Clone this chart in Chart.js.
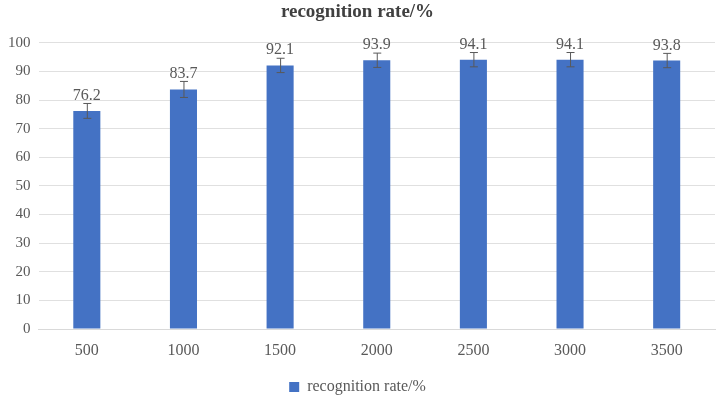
<!DOCTYPE html>
<html>
<head>
<meta charset="utf-8">
<script src="https://cdn.jsdelivr.net/npm/chart.js@4/dist/chart.umd.min.js"></script>
<style>
	html, body { margin: 0; padding: 0; background: #fff; }
	#wrap { width: 720px; height: 398px; }
</style>
</head>
<body>
<div id="wrap"><canvas id="cvs" width="720" height="398"></canvas></div>
<script>
var labels = ["500", "1000", "1500", "2000", "2500", "3000", "3500"];
var rates = [76.2, 83.7, 92.1, 93.9, 94.1, 94.1, 93.8];
var errors = [2.6, 2.8, 2.5, 2.5, 2.5, 2.5, 2.5];
var yTicks = [0, 10, 20, 30, 40, 50, 60, 70, 80, 90, 100];

var textColor = "#595959";
var serif = "'Liberation Serif', 'Times New Roman', serif";

// error bars + value labels drawn on top of the bars
var barExtras = {
	id: "barExtras",
	afterDatasetsDraw: function(chart) {
		var ctx = chart.ctx;
		var meta = chart.getDatasetMeta(0);
		var y = chart.scales.y;
		ctx.save();
		meta.data.forEach(function(bar, i) {
			var top = y.getPixelForValue(rates[i] + errors[i]);
			var bot = y.getPixelForValue(rates[i] - errors[i]);
			ctx.strokeStyle = "#595959";
			ctx.lineWidth = 1;
			ctx.beginPath();
			ctx.moveTo(bar.x + 0.5, top);
			ctx.lineTo(bar.x + 0.5, bot);
			ctx.moveTo(bar.x - 3.5, top);
			ctx.lineTo(bar.x + 4.5, top);
			ctx.moveTo(bar.x - 3.5, bot);
			ctx.lineTo(bar.x + 4.5, bot);
			ctx.stroke();

			ctx.fillStyle = textColor;
			ctx.font = "16px " + serif;
			ctx.textAlign = "center";
			ctx.textBaseline = "alphabetic";
			ctx.fillText(rates[i].toFixed(1), bar.x, bar.y - 11);
		});
		ctx.restore();
	}
};

new Chart(document.getElementById("cvs"), {
	type: "bar",
	data: {
		labels: labels,
		datasets: [
			{
				label: "recognition rate/%",
				backgroundColor: "#4472C4",
				borderWidth: 0,
				categoryPercentage: 1,
				barPercentage: 0.28,
				data: rates
			}
		]
	},
	options: {
		responsive: false,
		animation: false,
		maintainAspectRatio: false,
		layout: { padding: { left: 0, right: 5, top: 0, bottom: -7 } },
		plugins: {
			title: {
				display: true,
				text: "recognition rate/%",
				color: "#404040",
				font: { family: serif, size: 19, weight: "bold" },
				padding: { top: 1, bottom: 19 }
			},
			legend: {
				display: true,
				position: "bottom",
				labels: {
					color: textColor,
					font: { family: serif, size: 16 },
					boxWidth: 10,
					boxHeight: 10,
					padding: 4
				}
			},
			tooltip: { enabled: false }
		},
		scales: {
			x: {
				grid: { display: false },
				border: { color: "#d9d9d9" },
				ticks: {
					color: textColor,
					font: { family: serif, size: 16 },
					padding: 4
				},
				afterFit: function(axis) {
					axis.height = 46;
				}
			},
			y: {
				min: 0,
				max: 100,
				afterBuildTicks: function(axis) {
					axis.ticks = yTicks.map(function(v) { return { value: v }; });
				},
				grid: { color: "#e0e0e0", drawTicks: false },
				border: { display: false },
				ticks: {
					color: textColor,
					font: { family: serif, size: 15 },
					padding: 8
				}
			}
		}
	},
	plugins: [barExtras]
});
</script>
</body>
</html>
